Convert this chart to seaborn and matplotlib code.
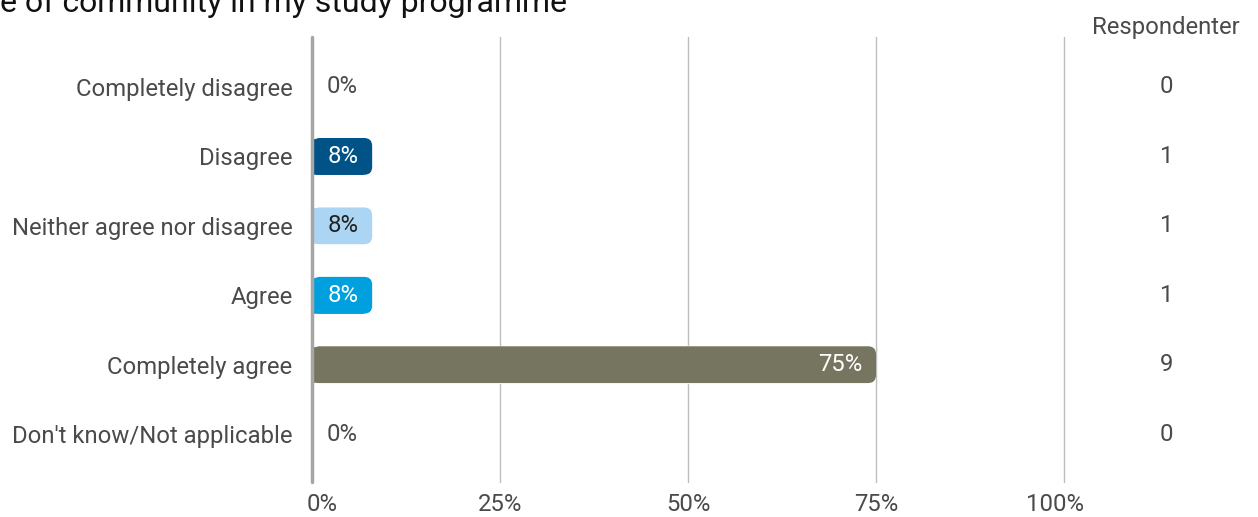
import pandas as pd
import matplotlib.pyplot as plt
import seaborn as sns
from matplotlib.patches import FancyBboxPatch
from matplotlib.transforms import offset_copy, IdentityTransform

categories = ["Completely disagree", "Disagree", "Neither agree nor disagree",
              "Agree", "Completely agree", "Don't know/Not applicable"]
percent = [0, 8, 8, 8, 75, 0]
counts = [0, 1, 1, 1, 9, 0]
colors = ["#1f4e79", "#005287", "#abd5f3", "#00a0df", "#767560", "#888888"]
label_colors = ["#4a4a4a", "white", "#222222", "white", "white", "#4a4a4a"]
title = "e of community in my study programme"

df = pd.DataFrame({"cat": categories, "pct": percent})

sns.set_theme(style="white")
plt.rcParams["font.family"] = ["Roboto", "DejaVu Sans"]

FS = 17.2
TXT = "#4a4a4a"

fig = plt.figure(figsize=(12.58, 5.17), dpi=100)
ax = fig.add_axes([312 / 1258, 1 - 482 / 517, (1064 - 312) / 1258, (482 - 37) / 517])

sns.barplot(data=df, y="cat", x="pct", hue="cat", palette=colors, orient="h",
            width=0.53, saturation=1, legend=False, ax=ax)

ax.set_xlim(0, 100)
ax.set_ylim(5.69, -0.72)

# rounded right ends
px_x = 752 / 100
px_y = 445 / 6.41
r = 8 / px_x
for p in list(ax.patches):
    w = p.get_width()
    if w <= 0:
        continue
    x0, y0, h = p.get_x(), p.get_y(), p.get_height()
    fb = FancyBboxPatch((x0, y0), w, h,
                        boxstyle=f"round,pad=0,rounding_size={r}",
                        mutation_aspect=(8 / px_y) / r,
                        facecolor=p.get_facecolor(), edgecolor="none", zorder=2)
    ax.add_patch(fb)
    p.set_width(w - r)

ax.set_xticks([0, 25, 50, 75, 100])
ax.set_xticklabels(["0%", "25%", "50%", "75%", "100%"])
for xv in [25, 50, 75, 100]:
    ax.axvline(xv, color="#bdbdbd", lw=1, zorder=0, clip_on=False)
ax.axvline(0, color="#a6a6a6", lw=2.5, zorder=3, clip_on=False)

for s in ax.spines.values():
    s.set_visible(False)
ax.tick_params(axis="both", length=0, labelsize=FS, labelcolor=TXT)
ax.tick_params(axis="y", pad=14)
ax.tick_params(axis="x", pad=8)
ax.set_xlabel("")
ax.set_ylabel("")

# edge tick labels are pulled inwards
xt = ax.get_xticklabels()
xt[0].set_transform(xt[0].get_transform() + offset_copy(IdentityTransform(), fig=fig, x=10, y=0, units="dots"))
xt[-1].set_transform(xt[-1].get_transform() + offset_copy(IdentityTransform(), fig=fig, x=-9, y=0, units="dots"))

for i, (pv, c) in enumerate(zip(percent, label_colors)):
    if pv == 0:
        ax.text(1.9, i, f"{pv}%", ha="left", va="center", fontsize=FS, color=c)
    else:
        tr = offset_copy(ax.transData, fig=fig, x=-14, y=0, units="dots")
        ax.text(pv, i, f"{pv}%", ha="right", va="center",
                fontsize=FS, color=c, transform=tr, zorder=4)

for i, n in enumerate(counts):
    ax.text(113.6, i, str(n), ha="center", va="center", fontsize=FS,
            color=TXT, clip_on=False)
ax.text(113.6, -0.86, "Respondenter", ha="center", va="center", fontsize=FS,
        color=TXT, clip_on=False)

fig.text(0, 1 - 12 / 517, title, ha="left", va="baseline", fontsize=23, color="#111111")

fig.savefig("out.png", dpi=100)
